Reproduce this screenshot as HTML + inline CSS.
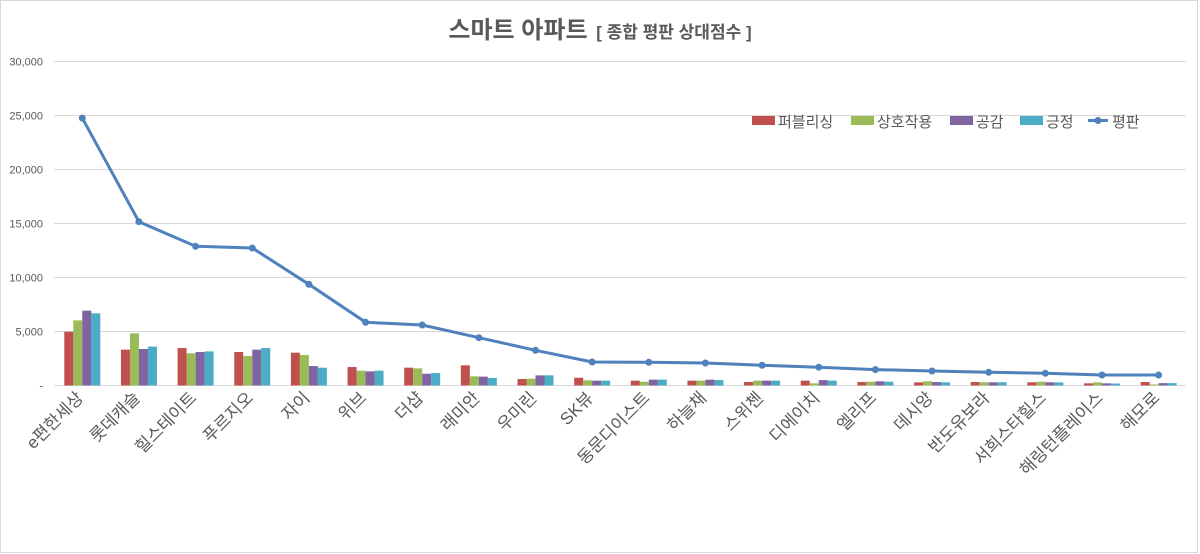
<!DOCTYPE html>
<html><head><meta charset="utf-8">
<style>
html,body{margin:0;padding:0;background:#fff;}
svg{display:block;font-family:"Liberation Sans","Noto Sans CJK KR",sans-serif;}
</style></head>
<body>
<svg id="c" width="1200" height="554" viewBox="0 0 1200 554" xmlns="http://www.w3.org/2000/svg">
<rect x="0.5" y="0.5" width="1197" height="552" fill="#fff" stroke="#d9d9d9"/>
<text x="600" y="38" text-anchor="middle" fill="#595959" font-weight="bold"><tspan font-size="24">스마트 아파트</tspan><tspan font-size="17" dx="4"> [ 종합 평판 상대점수 ]</tspan></text>
<g id="grid"></g>
<g id="bars"></g>
<g id="line"></g>
<g id="xl"></g>
<g font-size="15" fill="#595959">
<rect x="752" y="116" width="23" height="9" fill="#c0504d"/><text x="778" y="127">퍼블리싱</text>
<rect x="851" y="116" width="23" height="9" fill="#9bbb59"/><text x="877" y="127">상호작용</text>
<rect x="950" y="116" width="23" height="9" fill="#8064a2"/><text x="976" y="127">공감</text>
<rect x="1020" y="116" width="23" height="9" fill="#4bacc6"/><text x="1046" y="127">긍정</text>
<line x1="1088" y1="120.5" x2="1108" y2="120.5" stroke="#4f81bd" stroke-width="3"/><circle cx="1098" cy="120.5" r="3.5" fill="#4f81bd"/><text x="1112" y="127">평판</text>
</g>
</svg>
<script>
var NS="http://www.w3.org/2000/svg";
function el(p,t,a,txt){var e=document.createElementNS(NS,t);for(var k in a)e.setAttribute(k,a[k]);if(txt!=null)e.textContent=txt;document.getElementById(p).appendChild(e);return e;}
var y0=385.5,s=0.0108;
function Y(v){return y0-v*s;}
for(var i=0;i<=6;i++){var v=i*5000,y=Y(v);
 el("grid","line",{x1:54,x2:1186,y1:y,y2:y,stroke:"#d9d9d9","stroke-width":1});
 el("grid","text",{x:43,y:y+4,"text-anchor":"end","font-size":"11",fill:"#595959"},v===0?"-":v.toLocaleString("en-US"));}
var names=["e편한세상","롯데캐슬","힐스테이트","푸르지오","자이","위브","더샵","래미안","우미린","SK뷰","동문디이스트","하늘채","스위첸","디에이치","엘리프","데시앙","반도유보라","서희스타힐스","해링턴플레이스","해모로"];
var bars=[[4980,6030,6930,6680],[3320,4830,3380,3600],[3470,2980,3100,3160],[3100,2730,3320,3470],[3040,2820,1800,1650],[1710,1370,1310,1370],[1650,1590,1090,1150],[1870,850,820,700],[600,630,940,940],[720,480,450,450],[450,350,540,540],[450,450,540,500],[320,450,450,450],[450,200,500,450],[320,350,390,350],[290,390,320,290],[320,300,300,300],[300,350,300,290],[200,290,200,180],[320,100,220,220]];
var line=[24760,15170,12890,12730,9370,5850,5600,4430,3260,2180,2150,2080,1870,1690,1470,1340,1220,1130,970,970];
var cols=["#c0504d","#9bbb59","#8064a2","#4bacc6"];
var pts=[];
for(var c=0;c<20;c++){var cx=82.3+c*56.65;
 for(var j=0;j<4;j++){var v=bars[c][j];el("bars","rect",{x:cx-18+j*9,y:Y(v),width:9,height:v*s,fill:cols[j]});}
 pts.push(cx.toFixed(1)+","+Y(line[c]).toFixed(1));
 el("xl","text",{x:0,y:0,"text-anchor":"end","font-size":"17",fill:"#595959",transform:"translate("+(cx+2)+",399) rotate(-45)"},names[c]);
}
el("line","polyline",{points:pts.join(" "),fill:"none",stroke:"#4f81bd","stroke-width":3,"stroke-linejoin":"round"});
pts.forEach(function(p){var a=p.split(",");el("line","circle",{cx:a[0],cy:a[1],r:3.5,fill:"#4f81bd"});});
</script>
</body></html>
